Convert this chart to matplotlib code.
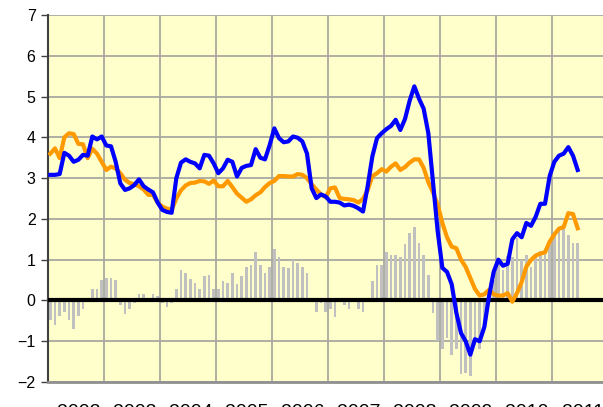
import matplotlib
matplotlib.use("Agg")
import matplotlib.pyplot as plt
import numpy as np

# monthly data, Jan 2002 .. Jun 2011
years = ["2002", "2003", "2004", "2005", "2006", "2007", "2008", "2009", "2010", "2011"]

blue = [
    3.08, 3.08, 3.10, 3.62, 3.55, 3.40, 3.45, 3.57, 3.55, 4.02, 3.95, 4.02,
    3.80, 3.78, 3.40, 2.87, 2.71, 2.75, 2.83, 2.97, 2.80, 2.72, 2.65, 2.40,
    2.22, 2.17, 2.15, 3.00, 3.38, 3.46, 3.40, 3.36, 3.24, 3.57, 3.55, 3.36,
    3.12, 3.24, 3.45, 3.40, 3.04, 3.25, 3.30, 3.32, 3.71, 3.50, 3.46, 3.81,
    4.22, 3.98, 3.88, 3.90, 4.02, 3.99, 3.90, 3.60, 2.75, 2.51, 2.60, 2.55,
    2.42, 2.42, 2.40, 2.33, 2.35, 2.32, 2.26, 2.18, 2.80, 3.53, 3.98, 4.10,
    4.20, 4.28, 4.43, 4.18, 4.45, 4.90, 5.25, 4.95, 4.70, 4.10, 2.90, 1.70,
    0.80, 0.70, 0.40, -0.30, -0.80, -1.00, -1.33, -0.95, -1.00, -0.65, 0.10, 0.70,
    1.00, 0.85, 0.90, 1.50, 1.65, 1.55, 1.90, 1.83, 2.05, 2.37, 2.37, 3.05,
    3.40, 3.55, 3.60, 3.76, 3.55, 3.20,
]

orange = [
    3.60, 3.73, 3.49, 4.00, 4.10, 4.08, 3.84, 3.83, 3.49, 3.72, 3.60, 3.40,
    3.20, 3.28, 3.24, 3.12, 2.96, 2.88, 2.85, 2.80, 2.72, 2.59, 2.59, 2.40,
    2.30, 2.25, 2.22, 2.50, 2.70, 2.82, 2.88, 2.89, 2.93, 2.92, 2.86, 2.94,
    2.80, 2.80, 2.93, 2.78, 2.62, 2.52, 2.42, 2.48, 2.58, 2.65, 2.78, 2.88,
    2.93, 3.05, 3.05, 3.04, 3.04, 3.10, 3.08, 3.00, 2.85, 2.72, 2.60, 2.53,
    2.75, 2.77, 2.51, 2.49, 2.48, 2.46, 2.40, 2.49, 2.70, 3.05, 3.12, 3.22,
    3.16, 3.28, 3.36, 3.20, 3.27, 3.38, 3.46, 3.46, 3.25, 2.90, 2.65, 2.35,
    1.90, 1.55, 1.32, 1.28, 1.00, 0.82, 0.55, 0.28, 0.12, 0.15, 0.26, 0.15,
    0.12, 0.12, 0.18, -0.03, 0.18, 0.45, 0.83, 0.99, 1.10, 1.15, 1.18, 1.44,
    1.62, 1.76, 1.80, 2.14, 2.12, 1.77,
]

bars = [
    -0.47, -0.59, -0.38, -0.29, -0.49, -0.69, -0.38, -0.20, 0.02, 0.29, 0.29, 0.49,
    0.54, 0.54, 0.49, -0.10, -0.34, -0.20, -0.06, 0.15, 0.15, 0.03, 0.15, 0.10,
    -0.06, -0.15, -0.07, 0.29, 0.74, 0.67, 0.53, 0.43, 0.29, 0.60, 0.63, 0.29,
    0.29, 0.48, 0.43, 0.68, 0.41, 0.60, 0.83, 0.87, 1.19, 0.87, 0.68, 0.83,
    1.27, 1.07, 0.83, 0.80, 1.00, 0.92, 0.83, 0.68, 0.00, -0.29, -0.07, -0.28,
    -0.20, -0.40, -0.03, -0.11, -0.21, -0.02, -0.20, -0.29, 0.07, 0.47, 0.87, 0.87,
    1.18, 1.11, 1.11, 1.06, 1.38, 1.65, 1.80, 1.41, 1.11, 0.62, -0.31, -1.00,
    -1.18, -0.93, -1.34, -1.20, -1.80, -1.79, -1.85, -1.10, -1.18, -0.60, 0.10, 0.50,
    0.99, 0.74, 1.10, 1.07, 1.52, 0.99, 1.11, 0.83, 1.11, 1.22, 1.15, 1.36,
    1.68, 1.80, 1.74, 1.60, 1.40, 1.40,
]

plt.rcParams["font.family"] = ["Liberation Sans", "DejaVu Sans"]

fig = plt.figure(figsize=(6.03, 4.07), dpi=100)
ax = fig.add_axes([48 / 603, 25 / 407, 560 / 603, 367 / 407])
ax.set_facecolor("#FFFFCC")

x = np.arange(len(blue)) + 0.5

ax.bar(x, bars, width=0.55, color="#C0C0C0", zorder=2)
ax.axhline(0, color="black", lw=3, zorder=3)
ax.plot(x, orange, color="#FF9900", lw=3, zorder=4, solid_joinstyle="round")
ax.plot(x, blue, color="#0000FF", lw=3, zorder=5, solid_joinstyle="round")

ax.set_xlim(0, 12 * len(years))
ax.set_ylim(-2, 7)
ax.set_yticks(range(-2, 8))
ax.tick_params(axis="y", labelsize=11.5, length=5, width=1, color="#404040", pad=4)

ax.set_xticks(np.arange(0, 12 * len(years) + 1, 12))
ax.set_xticklabels([])
ax.set_xticks(np.arange(6, 12 * len(years), 12) + 0.6, minor=True)
ax.set_xticklabels(years, minor=True)
ax.tick_params(axis="x", which="major", length=0)
ax.tick_params(axis="x", which="minor", length=0, labelsize=14, pad=16)

ax.grid(True, color="#A8A8A0", lw=1.3, zorder=1)
ax.set_axisbelow(True)

ax.spines["left"].set_color("#404040")
ax.spines["left"].set_linewidth(1.5)
ax.spines["bottom"].set_color("#909090")
ax.spines["bottom"].set_linewidth(2)
ax.spines["top"].set_visible(False)
ax.spines["right"].set_visible(False)

fig.savefig("out.png", dpi=100)
